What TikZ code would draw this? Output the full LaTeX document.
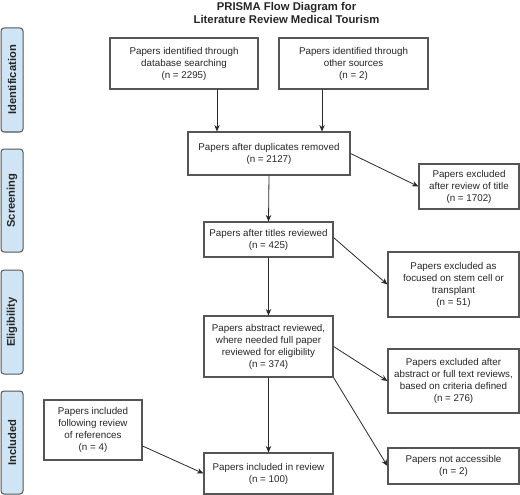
\documentclass[tikz,border=0pt]{standalone}
\usepackage{fontspec}
\setmainfont{Liberation Sans}
\usetikzlibrary{arrows.meta}
\definecolor{sidefill}{HTML}{CFE5F6}
\definecolor{boxline}{HTML}{555555}
\definecolor{arrline}{HTML}{2A2A2A}
\begin{document}
\begin{tikzpicture}[x=1pt,y=-1pt,
  box/.style={draw=boxline,line width=1.1pt,fill=white,align=center,inner sep=0pt,
    font=\fontsize{9.8}{12}\selectfont,text=black!85},
  side/.style={draw=boxline,line width=1pt,fill=sidefill,rounded corners=3pt,inner sep=0pt,
    minimum width=22pt},
  sidetext/.style={rotate=90,font=\fontsize{11.2}{13}\selectfont\bfseries,text=black!85},
  arr/.style={draw=arrline,line width=0.8pt,-{Stealth[length=6.5pt,width=5.5pt]}}]
\useasboundingbox (0,0) rectangle (520,495);
% title
\node[align=center,font=\fontsize{11.3}{13}\selectfont\bfseries,text=black!85] (title) at (286.5,12.5)
  {PRISMA Flow Diagram for\\Literature Review Medical Tourism};
% side bars
\node[side,minimum height=104pt] (s1) at (12,80) {};
\node[sidetext] (t1) at (s1.center) {Identification};
\node[side,minimum height=103pt] (s2) at (12,200.5) {};
\node[sidetext] (t2) at (s2.center) {Screening};
\node[side,minimum height=104pt] (s3) at (12,322) {};
\node[sidetext] (t3) at (s3.center) {Eligibility};
\node[side,minimum height=103pt] (s4) at (12,442.5) {};
\node[sidetext] (t4) at (s4.center) {Included};
% boxes
\node[box,minimum width=148pt,minimum height=51pt] (A) at (184,63.5)
  {Papers identified through\\database searching\\(n = 2295)};
\node[box,minimum width=149pt,minimum height=51pt] (B) at (353.5,63.5)
  {Papers identified through\\other sources\\(n = 2)};
\node[box,minimum width=162pt,minimum height=43pt] (C) at (269,153.5)
  {Papers after duplicates removed\\(n = 2127)};
\node[box,minimum width=100pt,minimum height=45pt] (D) at (469,186.5)
  {Papers excluded\\after review of title\\(n = 1702)};
\node[box,minimum width=129pt,minimum height=35pt] (E) at (268.5,239.5)
  {Papers after titles reviewed\\(n = 425)};
\node[box,minimum width=131pt,minimum height=65pt] (F) at (453.5,284.5)
  {Papers excluded as\\focused on stem cell or\\transplant\\(n = 51)};
\node[box,minimum width=129pt,minimum height=61pt] (G) at (268.5,346.5)
  {Papers abstract reviewed,\\where needed full paper\\reviewed for eligibility\\(n = 374)};
\node[box,minimum width=131pt,minimum height=64pt] (H) at (453.5,381)
  {Papers excluded after\\abstract or full text reviews,\\based on criteria defined\\(n = 276)};
\node[box,minimum width=98pt,minimum height=60pt] (I) at (93,430)
  {Papers included\\following review\\of references\\(n = 4)};
\node[box,minimum width=129pt,minimum height=41pt] (J) at (268.5,473.5)
  {Papers included in review\\(n = 100)};
\node[box,minimum width=131pt,minimum height=36pt] (K) at (453.5,466)
  {Papers not accessible\\(n = 2)};
% arrows
\draw[arr] ([xshift=33pt]A.south) -- ([xshift=33pt]A.south |- C.north);
\draw[arr] ([xshift=-31.5pt]B.south) -- ([xshift=-31.5pt]B.south |- C.north);
\draw[arr] (C.east) -- (D.west);
\draw[arr] (C.south) -- (E.north);
\draw[arr] ([yshift=2pt]E.east) -- (F.west);
\draw[arr] (E.south) -- (G.north);
\draw[arr] (G.east) -- (H.west);
\draw[arr] (G.south east) -- (K.west);
\draw[arr] (G.south) -- (J.north);
\draw[arr] ([yshift=-16pt]I.east) -- (J.west);
\end{tikzpicture}
\end{document}
